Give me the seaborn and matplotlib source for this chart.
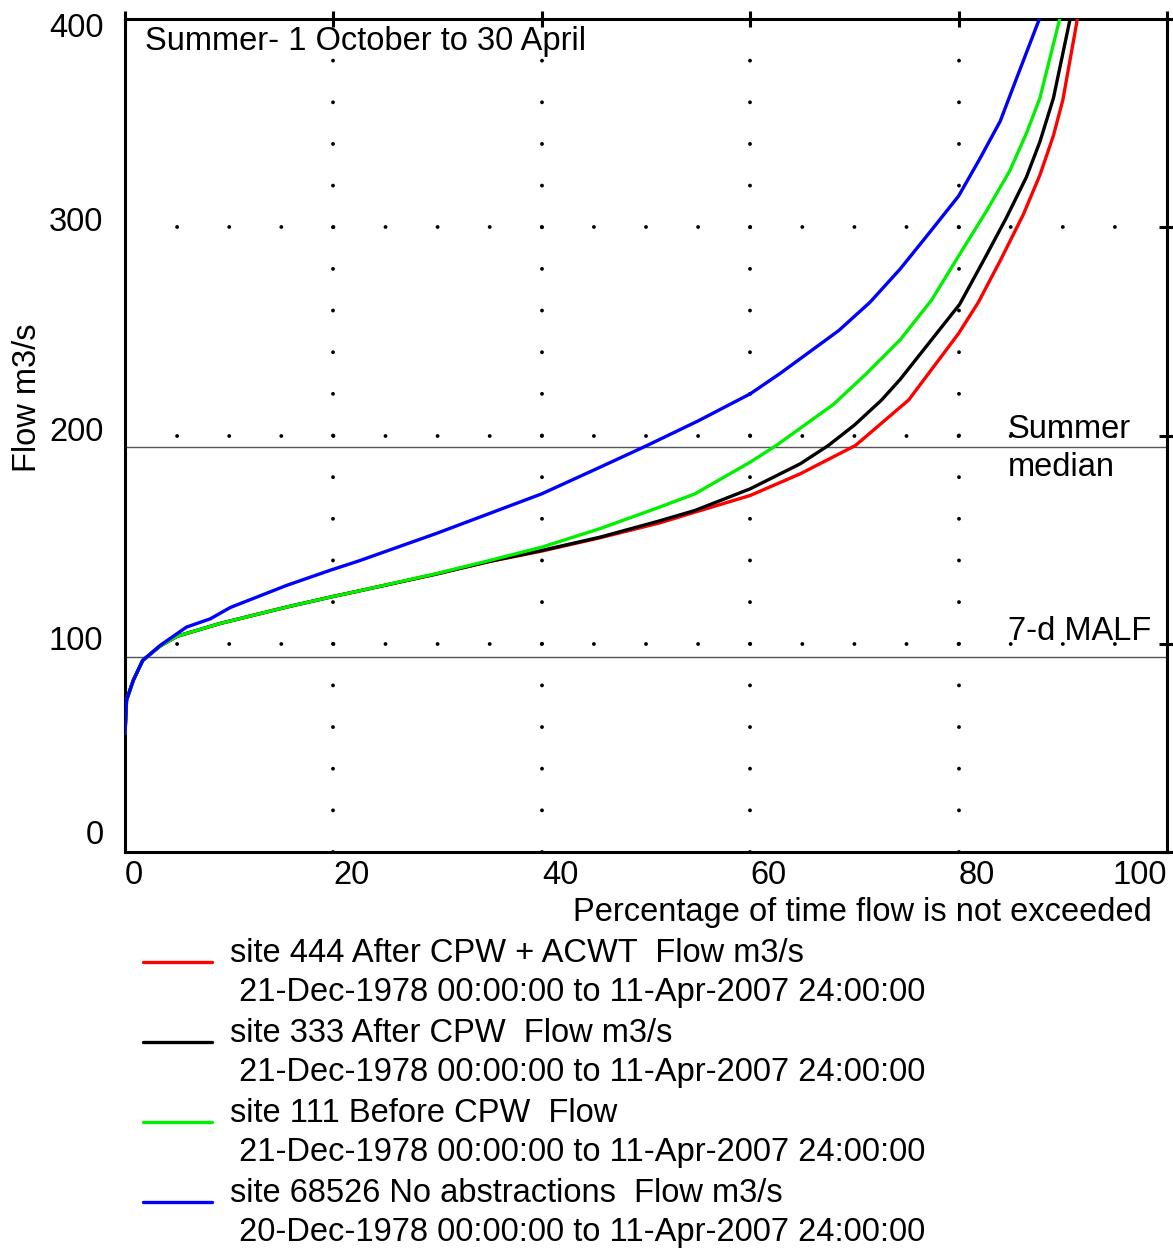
import matplotlib
matplotlib.use("Agg")
import matplotlib.pyplot as plt
from matplotlib.lines import Line2D
import pandas as pd
import seaborn as sns

# Flow duration curves, summer period
series_names = [
    "site 444 After CPW + ACWT  Flow m3/s",
    "site 333 After CPW  Flow m3/s",
    "site 111 Before CPW  Flow",
    "site 68526 No abstractions  Flow m3/s",
]
series_periods = [
    " 21-Dec-1978 00:00:00 to 11-Apr-2007 24:00:00",
    " 21-Dec-1978 00:00:00 to 11-Apr-2007 24:00:00",
    " 21-Dec-1978 00:00:00 to 11-Apr-2007 24:00:00",
    " 20-Dec-1978 00:00:00 to 11-Apr-2007 24:00:00",
]
series_colors = ["#ff0000", "#000000", "#00f000", "#0000ff"]

red_pct = [0, 0.15, 0.8, 1.7, 3.4, 5, 9.1, 15.5, 19.7, 22.4, 29.9, 35, 40, 45.6,
           51.3, 54.7, 60, 64.8, 70.1, 74.4, 75.2, 80, 81.9, 84, 86.2, 87.8, 89.1,
           90, 91.4]
red_flow = [57, 73, 82.5, 92, 99, 103.6, 109.7, 117.6, 122.4, 125.3, 133.5, 139.5,
            144.5, 150.9, 158, 163.2, 171.2, 181.6, 195.2, 213.6, 217, 249, 264, 284,
            306, 325, 344, 361, 400]

black_pct = [0, 0.15, 0.8, 1.7, 3.4, 5, 9.1, 15.5, 19.7, 22.4, 29.9, 35, 40, 45.6,
             51.3, 54.7, 60, 64.8, 67.5, 70, 72.6, 74.4, 80.1, 82.5, 84.6, 86.5, 87.8,
             89.1, 90.7]
black_flow = [57, 73, 82.5, 92, 99, 103.6, 109.7, 117.6, 122.4, 125.3, 133.5, 139.6,
              144.8, 151.2, 159, 164, 174.4, 186.4, 195.2, 205, 217, 227, 263, 285,
              304.7, 324, 341, 362, 400]

green_pct = [0, 0.15, 0.8, 1.7, 3.4, 5.0, 9.1, 15.5, 19.7, 22.4, 29.9, 35, 40, 45.6,
             51.3, 54.7, 60, 62.5, 68, 71, 74.4, 77.4, 80.1, 82.7, 84.9, 86.5, 87.8,
             89.7]
green_flow = [57, 73, 82.5, 92, 99, 103.6, 109.7, 117.6, 122.4, 125.3, 133.7, 140,
              146.4, 155.3, 165.6, 172, 187.2, 195.2, 215, 229, 246, 265, 287, 308,
              327, 345, 362, 400]

blue_pct = [0, 0.15, 0.8, 1.7, 3.4, 5.9, 8.2, 10.1, 15.5, 19.7, 22.4, 29.9, 40, 45.6,
            50.1, 55, 60, 62.9, 68.5, 71.5, 74.4, 77.3, 80, 82.05, 84, 85.6, 87.75]
blue_flow = [57, 73, 82.5, 92, 99.3, 108, 112, 117.4, 128, 135.3, 139.7, 153, 172,
             184.8, 195.2, 207, 220, 229.9, 250.4, 264, 280, 298, 315, 333, 351, 372,
             400]

summer_median = 194.7
malf_7d = 93.5

x_ticks = [0, 20, 40, 60, 80, 100]
y_ticks = [0, 100, 200, 300, 400]

frames = []
for name, pct, flow in zip(series_names,
                           [red_pct, black_pct, green_pct, blue_pct],
                           [red_flow, black_flow, green_flow, blue_flow]):
    frames.append(pd.DataFrame({"pct": pct, "flow": flow, "series": name}))
df = pd.concat(frames, ignore_index=True)

sns.set_style("white")
plt.rcParams["font.family"] = ["Liberation Sans", "DejaVu Sans"]
plt.rcParams["lines.scale_dashes"] = False
for key in ["text.color", "axes.labelcolor", "xtick.color", "ytick.color"]:
    plt.rcParams[key] = "black"

FS = 23.5
W, H = 11.73, 12.5
fig = plt.figure(figsize=(W, H), dpi=100)
ax_rect = [125 / 1173, 1 - 852 / 1250, (1167 - 125) / 1173, (852 - 19) / 1250]
ax = fig.add_axes(ax_rect)

ax.set_xlim(0, 100)
ax.set_ylim(0, 400)

# dotted grid: rows dotted every 5 %, columns dotted every 20 m3/s
pt_per_x = W * 72 * ax_rect[2] / 100
pt_per_y = H * 72 * ax_rect[3] / 400
for yv in [100, 200, 300]:
    ax.axhline(yv, color="black", lw=2.8, dashes=(0.01, 5 * pt_per_x - 0.01),
               dash_capstyle="round", zorder=1)
for xv in [20, 40, 60, 80]:
    ax.axvline(xv, color="black", lw=2.8, dashes=(0.01, 20 * pt_per_y - 0.01),
               dash_capstyle="round", zorder=1)

# reference flows
ax.axhline(summer_median, color="#555555", lw=1.0, zorder=2)
ax.axhline(malf_7d, color="#555555", lw=1.0, zorder=2)

sns.lineplot(data=df, x="pct", y="flow", hue="series", hue_order=series_names,
             palette=series_colors, estimator=None, sort=False, legend=False,
             lw=2.4, ax=ax, zorder=3)

ax.set_xticks(x_ticks)
ax.set_yticks(y_ticks)
ax.set_xticklabels([str(v) for v in x_ticks])
for lbl in ax.get_xticklabels():
    lbl.set_ha("left")
ax.get_xticklabels()[-1].set_ha("right")
ax.tick_params(axis="both", direction="inout", length=12, width=2.2,
               top=True, right=True, labelsize=FS, colors="black")
ax.tick_params(axis="x", pad=0)
ax.tick_params(axis="y", labelleft=False)

# flow labels, each nudged a little off its tick (offsets in points, up positive)
y_nudge = [12, 1.3, 2.3, 3.3, -6.7]
for v, dy in zip(y_ticks, y_nudge):
    ax.annotate(str(v), xy=(0, v), xycoords=("axes fraction", "data"),
                xytext=(-15.5, dy), textcoords="offset points",
                ha="right", va="center", fontsize=FS, annotation_clip=False)

for side in ["left", "right", "top", "bottom"]:
    ax.spines[side].set_visible(True)
    ax.spines[side].set_color("black")
    ax.spines[side].set_linewidth(2.2)
ax.set_xlabel("")
ax.set_ylabel("")

# axis titles and annotations
fig.text(28 / 1173, 1 - 398 / 1250, "Flow m3/s", rotation=90, fontsize=FS,
         ha="center", va="center")
fig.text(1152 / 1173, 1 - 913 / 1250, "Percentage of time flow is not exceeded",
         fontsize=FS, ha="right", va="center")
ax.text(1.9, 400 - 11, "Summer- 1 October to 30 April", fontsize=FS,
        ha="left", va="center")
ax.text(84.7, summer_median - 1, "Summer\nmedian", fontsize=FS, ha="left",
        va="center", linespacing=1.3)
ax.text(84.7, malf_7d + 5, "7-d MALF", fontsize=FS, ha="left", va="bottom")

# legend block below the axes
y0 = 962
for i, (name, period, col) in enumerate(zip(series_names, series_periods, series_colors)):
    yl = y0 + 80 * i
    fig.add_artist(Line2D([143 / 1173, 212 / 1173], [1 - yl / 1250, 1 - yl / 1250],
                          color=col, lw=2.4, transform=fig.transFigure))
    fig.text(230 / 1173, 1 - (yl - 9) / 1250, name, fontsize=FS, ha="left", va="center")
    fig.text(230 / 1173, 1 - (yl + 31) / 1250, period, fontsize=FS, ha="left", va="center")

fig.savefig("out.png", dpi=100, facecolor="white")
